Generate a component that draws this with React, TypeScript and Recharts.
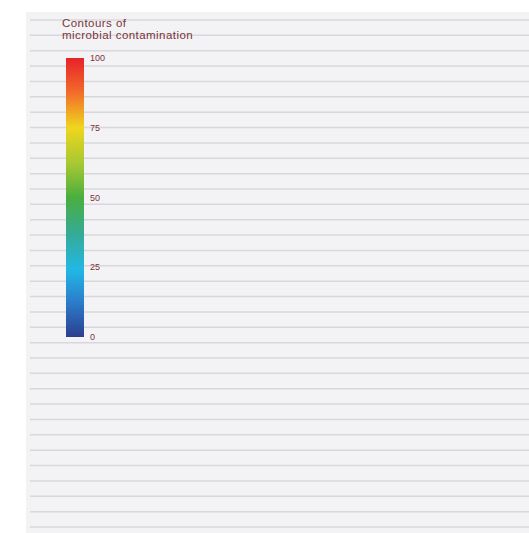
import { BarChart, Bar, XAxis, YAxis, ComposedChart, CartesianGrid, Line } from 'recharts';

// legend scale
const legendTicks = [0, 25, 50, 75, 100];
const legendBar = [{ name: 'contamination', value: 100 }];

// background strip lines (one tick per strip edge)
const stripeTicks = [
    0, 1, 2, 3, 4, 5, 6, 7, 8, 9, 10, 11, 12, 13, 14, 15, 16,
    17, 18, 19, 20, 21, 22, 23, 24, 25, 26, 27, 28, 29, 30, 31, 32, 33,
];

const titleLines = ['Contours of', 'microbial contamination'];

const LABEL_COLOR = '#7a3438';

const EmptyTick = () => <g />;

const App = () => {
    const stripeData = stripeTicks.map((v) => ({ x: v, y: v }));

    return (
        <div style={{ position: 'fixed', top: 0, left: 0, width: 529, height: 533, background: '#fff', overflow: 'hidden' }}>
            <div style={{ position: 'absolute', left: 26, top: 12, width: 503, height: 521, background: '#f3f3f6' }} />
            <div style={{ position: 'absolute', left: 0, top: 0 }}>
                <ComposedChart width={529} height={533} data={stripeData} margin={{ top: 20, right: 0, bottom: 6, left: 29 }}>
                    <CartesianGrid vertical={false} stroke="#d7d7dc" strokeWidth={1.5} />
                    <XAxis dataKey="x" type="number" domain={[0, 33]} hide />
                    <YAxis type="number" domain={[0, 33]} ticks={stripeTicks} interval={0} tick={EmptyTick} axisLine={false} tickLine={false} width={1} />
                    <Line dataKey="y" stroke="none" dot={false} activeDot={false} isAnimationActive={false} />
                </ComposedChart>
            </div>
            <div style={{ position: 'absolute', left: 62, top: 17, fontFamily: '"Liberation Sans", Arial, sans-serif', fontSize: 11.5, lineHeight: '12px', color: LABEL_COLOR, letterSpacing: 0.45 }}>
                {titleLines.map((t) => (
                    <div key={t}>{t}</div>
                ))}
            </div>
            <div style={{ position: 'absolute', left: 0, top: 0 }}>
                <BarChart width={130} height={360} data={legendBar} barCategoryGap={0} margin={{ top: 58, right: 0, bottom: 23, left: 66 }}>
                    <defs>
                        <linearGradient id="contourScale" x1="0" y1="0" x2="0" y2="1">
                            <stop offset="0%" stopColor="#e8222a" />
                            <stop offset="12%" stopColor="#f2692a" />
                            <stop offset="25%" stopColor="#efd61e" />
                            <stop offset="38%" stopColor="#a6c833" />
                            <stop offset="50%" stopColor="#4aae3e" />
                            <stop offset="63%" stopColor="#35ab96" />
                            <stop offset="76%" stopColor="#22b7e6" />
                            <stop offset="88%" stopColor="#2b7ac9" />
                            <stop offset="100%" stopColor="#2c3e8e" />
                        </linearGradient>
                    </defs>
                    <XAxis dataKey="name" hide />
                    <YAxis
                        orientation="right"
                        type="number"
                        domain={[0, 100]}
                        ticks={legendTicks}
                        interval={0}
                        width={46}
                        axisLine={false}
                        tickLine={false}
                        tickSize={3}
                        tickMargin={3}
                        tick={{ fill: LABEL_COLOR, fontSize: 9, fontFamily: '"Liberation Sans", Arial, sans-serif' }}
                    />
                    <Bar dataKey="value" fill="url(#contourScale)" isAnimationActive={false} />
                </BarChart>
            </div>
        </div>
    );
};

export default App;
